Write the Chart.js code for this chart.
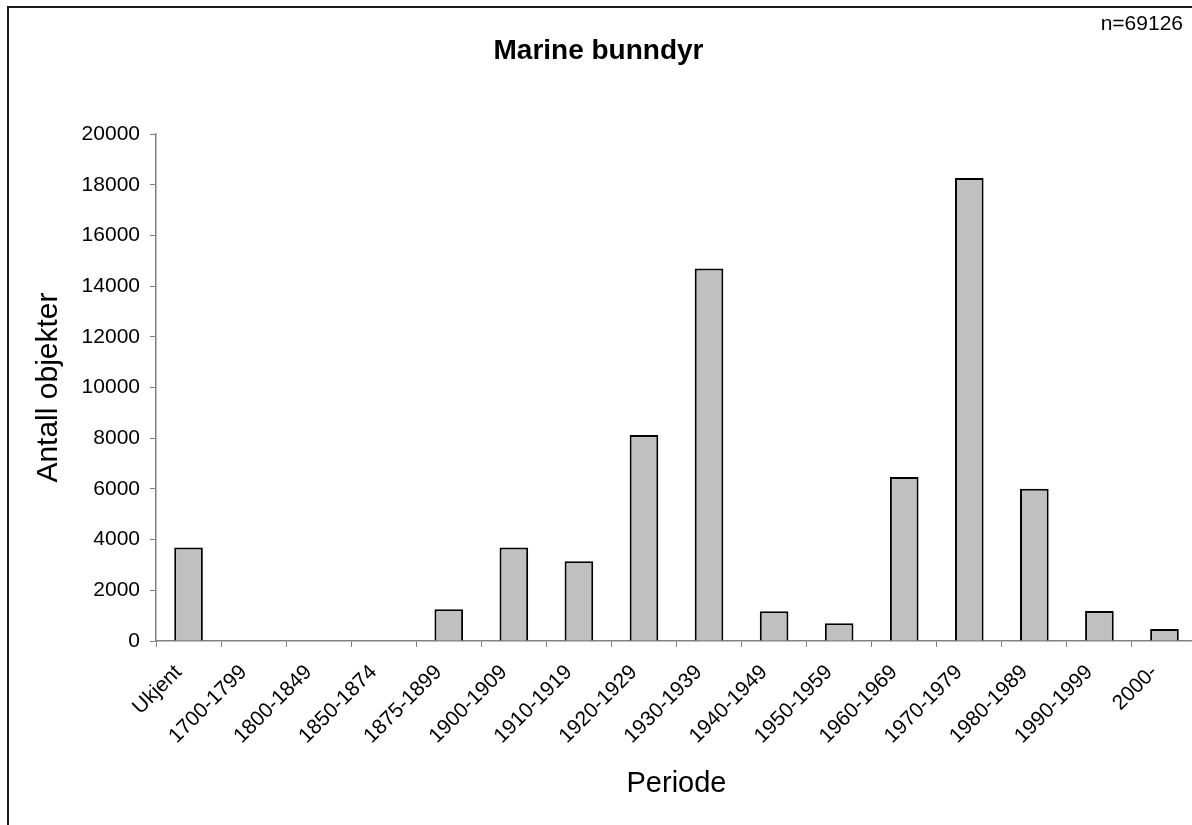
<!DOCTYPE html>
<html>
<head>
<meta charset="utf-8">
<script src="https://cdn.jsdelivr.net/npm/chart.js@4"></script>
<style>
html,body{margin:0;padding:0;background:#fff;overflow:hidden;width:1192px;height:825px;}
#wrap{position:absolute;left:0;top:0;width:1211px;height:825px;}
#frame{position:absolute;left:7px;top:6px;width:1300px;height:900px;border:2px solid #1a1a1a;pointer-events:none;}
</style>
</head>
<body>
<div id="wrap"><canvas id="c" width="1211" height="825" style="width:1211px;height:825px"></canvas></div>
<div id="frame"></div>
<script>
const chartTitle = "Marine bunndyr";
const countNote = "n=69126";
const xTitle = "Periode";
const yTitle = "Antall objekter";
const categories = ["Ukjent","1700-1799","1800-1849","1850-1874","1875-1899","1900-1909","1910-1919","1920-1929","1930-1939","1940-1949","1950-1959","1960-1969","1970-1979","1980-1989","1990-1999","2000-"];
const counts = [3690, 0, 0, 0, 1250, 3690, 3150, 8130, 14700, 1170, 700, 6470, 18270, 6010, 1180, 470];
const yMin = 0;
const yMax = 20000;
const yStep = 2000;

Chart.defaults.font.family = '"Liberation Sans", Arial, sans-serif';
Chart.defaults.color = '#000';

const notePlugin = {
  id: 'note',
  afterDraw(chart) {
    const ctx = chart.ctx;
    ctx.save();
    ctx.font = '21px "Liberation Sans", Arial, sans-serif';
    ctx.fillStyle = '#000';
    ctx.textAlign = 'right';
    ctx.textBaseline = 'alphabetic';
    ctx.fillText(countNote, 1183, 30);
    ctx.restore();
  }
};

new Chart(document.getElementById('c'), {
  type: 'bar',
  data: {
    labels: categories,
    datasets: [{
      data: counts,
      backgroundColor: '#c0c0c0',
      borderColor: '#000',
      borderWidth: 2,
      barPercentage: 0.44,
      categoryPercentage: 1
    }]
  },
  options: {
    responsive: false,
    animation: false,
    events: [],
    layout: { padding: { left: 0, right: 14, top: 0, bottom: 0 } },
    plugins: {
      legend: { display: false },
      tooltip: { enabled: false },
      title: {
        display: true,
        text: chartTitle,
        color: '#000',
        font: { size: 28, weight: 'bold' },
        padding: { top: 34, bottom: 66.5 }
      }
    },
    scales: {
      x: {
        offset: true,
        z: 1,
        grid: { offset: true, drawOnChartArea: false, drawTicks: true, tickLength: 6, color: '#808080', lineWidth: 1 },
        border: { color: '#808080', width: 1.5 },
        ticks: { autoSkip: false, minRotation: 45, maxRotation: 45, color: '#000', font: { size: 21 }, padding: 13, labelOffset: -10 },
        title: { display: true, text: xTitle, color: '#000', font: { size: 29 }, padding: { top: 0, bottom: 24 } },
        afterFit(s) { s.height = 184; }
      },
      y: {
        min: yMin,
        max: yMax,
        ticks: { stepSize: yStep, color: '#000', font: { size: 21 }, padding: 10, callback: v => String(v) },
        grid: { drawOnChartArea: false, drawTicks: true, tickLength: 6, color: '#808080', lineWidth: 1 },
        border: { color: '#808080', width: 1.5 },
        title: { display: true, text: yTitle, color: '#000', font: { size: 30 }, padding: { top: 31, bottom: 0 } },
        afterFit(s) { s.width = 156; }
      }
    }
  },
  plugins: [notePlugin]
});
</script>
</body>
</html>
